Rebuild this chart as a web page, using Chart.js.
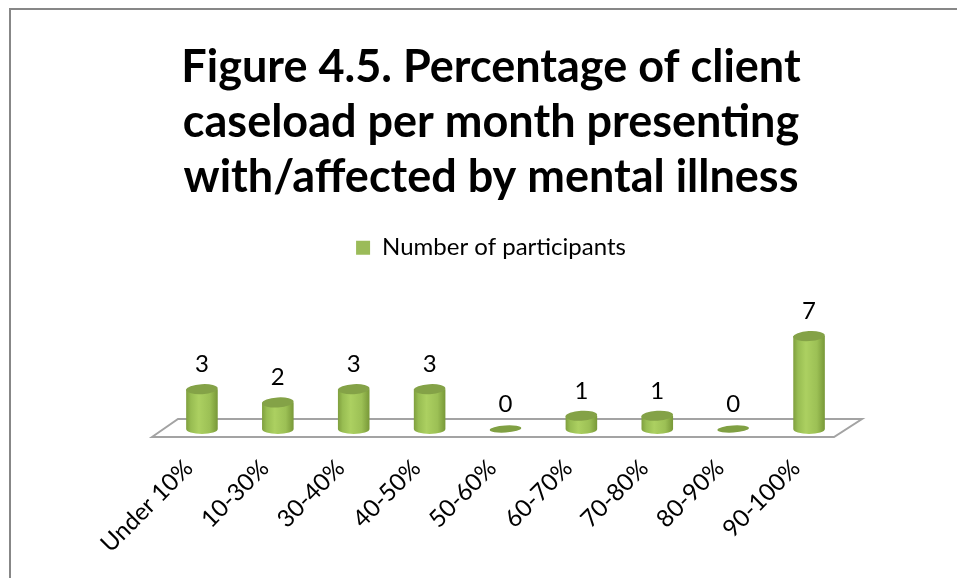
<!DOCTYPE html>
<html>
<head>
<meta charset="utf-8">
<script src="https://cdn.jsdelivr.net/npm/chart.js@4"></script>
<style>
  body { margin: 0; background: #fff; }
  #wrap { position: absolute; left: 0; top: 0; width: 957px; height: 578px; }
</style>
</head>
<body>
<div id="wrap"><canvas id="grafico"></canvas></div>
<script>
const categorias = ['Under 10%', '10-30%', '30-40%', '40-50%', '50-60%', '60-70%', '70-80%', '80-90%', '90-100%'];
const participantes = [3, 2, 3, 3, 0, 1, 1, 0, 7];
const tituloLinhas = ['Figure 4.5. Percentage of client', 'caseload per month presenting', 'with/affected by mental illness'];

const FONTE = 'Lato, "Open Sans", sans-serif';

/* moldura + piso */
const pisoPlugin = {
    id: 'piso',
    beforeDraw(chart) {
        const ctx = chart.ctx;
        ctx.save();
        ctx.fillStyle = '#878787';
        ctx.fillRect(9, 8, chart.width - 9, 2);
        ctx.fillRect(9, 8, 2, chart.height - 8);
        ctx.restore();
    },
    beforeDatasetsDraw(chart) {
        const { ctx, chartArea } = chart;
        const base = chart.scales.y.getPixelForValue(0);
        ctx.save();
        ctx.strokeStyle = '#a3a3a3';
        ctx.lineWidth = 2;
        ctx.beginPath();
        ctx.moveTo(chartArea.left - 12, base + 8);
        ctx.lineTo(chartArea.left + 14, base - 10);
        ctx.lineTo(chartArea.right + 15, base - 10);
        ctx.lineTo(chartArea.right - 13, base + 8);
        ctx.closePath();
        ctx.stroke();
        ctx.restore();
    }
};

/* cilindros */
const cilindroPlugin = {
    id: 'cilindro',
    afterDatasetsDraw(chart) {
        const ctx = chart.ctx;
        const meta = chart.getDatasetMeta(0);
        ctx.save();
        meta.data.forEach((bar, i) => {
            const w = bar.width;
            const x0 = bar.x - w / 2;
            const topo = bar.y;
            const base = bar.base;
            const ry = 5;

            if (participantes[i] === 0) {
                ctx.fillStyle = '#80a043';
                ctx.beginPath();
                ctx.ellipse(bar.x, base, w / 2, 3.5, -0.06, 0, Math.PI * 2);
                ctx.fill();
            } else {
                const grad = ctx.createLinearGradient(x0, 0, x0 + w, 0);
                grad.addColorStop(0, '#7f9f3e');
                grad.addColorStop(0.15, '#98bd52');
                grad.addColorStop(0.4, '#acd061');
                grad.addColorStop(0.75, '#9cc055');
                grad.addColorStop(1, '#789838');
                ctx.fillStyle = grad;
                ctx.beginPath();
                ctx.moveTo(x0, topo);
                ctx.lineTo(x0, base);
                ctx.ellipse(bar.x, base, w / 2, ry, 0, Math.PI, 0, true);
                ctx.lineTo(x0 + w, topo);
                ctx.closePath();
                ctx.fill();

                ctx.fillStyle = '#84a247';
                ctx.beginPath();
                ctx.ellipse(bar.x, topo, w / 2, ry, -0.06, 0, Math.PI * 2);
                ctx.fill();
            }

            ctx.fillStyle = '#000';
            ctx.font = '24px ' + FONTE;
            ctx.textAlign = 'center';
            ctx.textBaseline = 'alphabetic';
            ctx.fillText(String(participantes[i]), bar.x, topo - 17);
        });
        ctx.restore();
    }
};

new Chart(document.getElementById('grafico'), {
    type: 'bar',
    data: {
        labels: categorias,
        datasets: [{
            label: 'Number of participants',
            data: participantes,
            backgroundColor: 'rgba(0,0,0,0)',
            borderWidth: 0,
            barPercentage: 0.52,
            categoryPercentage: 0.8
        }]
    },
    options: {
        responsive: true,
        maintainAspectRatio: false,
        animation: false,
        layout: { padding: { left: 25, right: 0, top: 0, bottom: 0 } },
        plugins: {
            title: {
                display: true,
                text: tituloLinhas,
                color: '#000',
                font: { family: FONTE, size: 45, weight: 'bold', lineHeight: 1.22 },
                padding: { top: 40, bottom: 21 }
            },
            legend: {
                display: true,
                labels: {
                    color: '#000',
                    boxWidth: 14,
                    boxHeight: 14,
                    font: { family: FONTE, size: 24 },
                    generateLabels: () => [{
                        text: 'Number of participants',
                        fillStyle: '#9bbb59',
                        strokeStyle: '#9bbb59',
                        lineWidth: 0
                    }]
                }
            },
            tooltip: { enabled: false }
        },
        scales: {
            x: {
                grid: { display: false, drawTicks: false },
                border: { display: false },
                ticks: {
                    color: '#000',
                    font: { family: FONTE, size: 24 },
                    minRotation: 45,
                    maxRotation: 45,
                    labelOffset: -13,
                    padding: 25
                },
                afterFit(scale) { scale.height = 149; }
            },
            y: {
                display: true,
                min: 0,
                max: 12,
                grid: { display: false, drawTicks: false },
                border: { display: false },
                ticks: { display: false },
                afterFit(scale) { scale.width = 139; }
            },
            direita: {
                type: 'linear',
                position: 'right',
                display: true,
                min: 0,
                max: 1,
                grid: { display: false, drawTicks: false },
                border: { display: false },
                ticks: { display: false },
                afterFit(scale) { scale.width = 110; }
            }
        }
    },
    plugins: [pisoPlugin, cilindroPlugin]
});
</script>
</body>
</html>
